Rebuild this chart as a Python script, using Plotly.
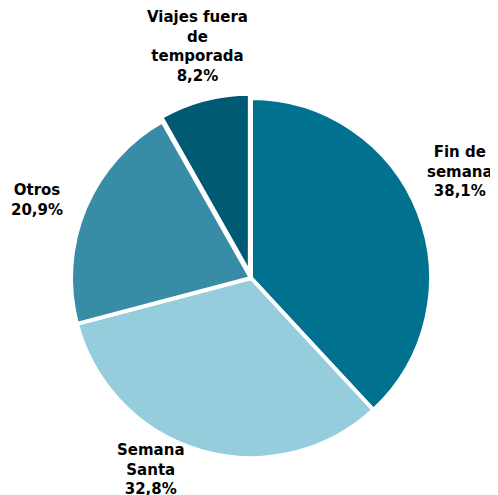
import plotly.graph_objects as go

labels = ["Fin de<br>semana", "Semana<br>Santa", "Otros", "Viajes fuera<br>de<br>temporada"]
values = [38.1, 32.8, 20.9, 8.2]
colors = ["#00718E", "#96CDDD", "#398CA5", "#005A74"]
pulls = [0, 0, 0, 0.025]

W, H = 490, 487   # page body adds an 8px offset
OFF = 8


def px_x(x):
    return (x - OFF) / W


def px_y(y):
    return 1 - (y - OFF) / H


# label placement (page pixels, layout only)
label_px = [(460, 171.5), (150.5, 469), (36.5, 200.5), (197, 46.5)]

fig = go.Figure(go.Pie(
    labels=labels,
    values=values,
    sort=False,
    direction="clockwise",
    rotation=0,
    pull=pulls,
    marker=dict(colors=colors, line=dict(color="white", width=4)),
    textinfo="none",
    showlegend=False,
    hoverinfo="label+value",
    domain=dict(x=[px_x(66.5), px_x(435.5)], y=[px_y(462.5), px_y(93.5)]),
))

for lab, val, (lx, ly) in zip(labels, values, label_px):
    fig.add_annotation(
        x=px_x(lx), y=px_y(ly), xref="paper", yref="paper",
        text="<b>%s<br>%s%%</b>" % (lab, ("%.1f" % val).replace(".", ",")),
        showarrow=False, xanchor="center", yanchor="middle", align="center",
        font=dict(family="DejaVu Sans", size=15, color="black"),
    )

fig.update_layout(
    width=W, height=H,
    margin=dict(l=0, r=0, t=0, b=0),
    paper_bgcolor="white",
    separators=",.",
)
fig.write_html("out.html")
